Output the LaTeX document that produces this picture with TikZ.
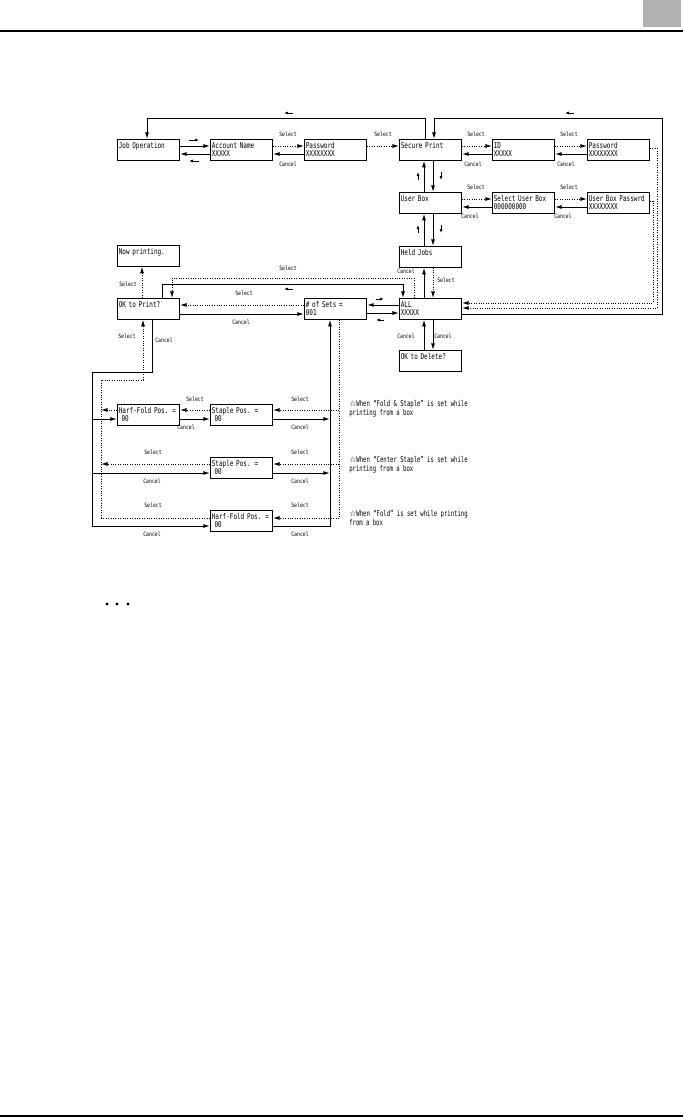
\documentclass[tikz,border=0pt]{standalone}
\usepackage{fontspec}
\usetikzlibrary{arrows.meta}
\newfontfamily\lcd[FakeStretch=0.75]{DejaVu Sans Mono}
\newfontfamily\lcds[FakeStretch=0.8]{DejaVu Sans Mono}
\newfontfamily\lcdn[FakeStretch=0.7]{DejaVu Sans Mono}
\newfontfamily\symf{DejaVu Sans}
\tikzset{
  ln/.style={line width=0.75pt},
  arr/.style={ln,-{Latex[length=5pt,width=3pt]}},
  dots/.style={line width=0.65pt,dash pattern=on 0.7pt off 1.1pt},
  darr/.style={dots,-{Latex[length=5pt,width=3pt]}},
  small/.style={line width=0.55pt,-{Latex[length=3pt,width=2.2pt]}},
  disp/.style={draw,line width=0.75pt,rectangle,anchor=north west,minimum height=15.5pt,
    inner xsep=1pt,inner ysep=1.5pt,text width=44.5pt,align=left,font=\lcd\fontsize{6}{6}\selectfont},
  lbl/.style={inner sep=0pt,font=\lcds\fontsize{4.5}{5}\selectfont},
  note/.style={anchor=west,inner sep=0pt,align=left,font=\lcdn\fontsize{6}{6.75}\selectfont}
}
\begin{document}
\begin{tikzpicture}[x=0.75pt,y=-0.75pt]
\useasboundingbox (0,0) rectangle (683,1118);
% page frame
\fill[gray!60] (643,0) rectangle (681,27);
\draw[line width=0.9pt] (0,31) -- (683,31);
\draw[line width=0.9pt] (0,1116) -- (683,1116);
\foreach \x in {107,117,128} \fill (\x,604) circle[radius=1.3pt];

% displays
\node[disp] (jobop) at (117,139) {Job Operation\\~};
\node[disp] (acct) at (210,139) {Account Name\\XXXXX};
\node[disp] (pwd) at (304,139) {Password\\XXXXXXXX};
\node[disp] (secure) at (399,139) {Secure Print\\~};
\node[disp] (id) at (492,139) {ID\\XXXXX};
\node[disp] (spwd) at (587,139) {Password\\XXXXXXXX};
\node[disp] (ubox) at (399,192) {User Box\\~};
\node[disp] (selub) at (492,192) {Select User Box\\000000000};
\node[disp] (ubpwd) at (587,192) {User Box Passwrd\\XXXXXXXX};
\node[disp] (held) at (399,246) {Held Jobs\\~};
\node[disp] (nowp) at (117,245) {Now printing.\\~};
\node[disp] (okp) at (117,298) {OK to Print?\\~};
\node[disp] (sets) at (304,298) {\# of Sets =\\001};
\node[disp] (all) at (399,298) {ALL\\XXXXX};
\node[disp] (del) at (399,350) {OK to Delete?\\~};
\node[disp] (hfa) at (117,404) {\mbox{Harf-Fold Pos. =}\\~00};
\node[disp] (sta) at (210,404) {Staple Pos. =\\~00};
\node[disp] (stb) at (210,457) {Staple Pos. =\\~00};
\node[disp] (hfc) at (210,510) {\mbox{Harf-Fold Pos. =}\\~00};

% bus lines
\coordinate (lc) at (92,372);
\coordinate (ls) at (101,380);
\coordinate (rc) at (330,526);
\coordinate (rs) at (339,518);

% top row
\draw[arr] (jobop.east |- 0,146) -- (acct.west |- 0,146);
\draw[arr] (acct.west |- 0,154) -- (jobop.east |- 0,154);
\draw[darr] (acct.east |- 0,146) -- (pwd.west |- 0,146);
\draw[arr] (pwd.west |- 0,154) -- (acct.east |- 0,154);
\draw[darr] (pwd.east |- 0,146) -- (secure.west |- 0,146);
\draw[darr] (secure.east |- 0,146) -- (id.west |- 0,146);
\draw[arr] (id.west |- 0,154) -- (secure.east |- 0,154);
\draw[darr] (id.east |- 0,146) -- (spwd.west |- 0,146);
\draw[arr] (spwd.west |- 0,154) -- (id.east |- 0,154);
% user box row
\draw[darr] (ubox.east |- 0,199) -- (selub.west |- 0,199);
\draw[arr] (selub.west |- 0,207) -- (ubox.east |- 0,207);
\draw[darr] (selub.east |- 0,199) -- (ubpwd.west |- 0,199);
\draw[arr] (ubpwd.west |- 0,207) -- (selub.east |- 0,207);
% middle column
\draw[arr] (secure.south -| 433,0) -- (ubox.north -| 433,0);
\draw[arr] (ubox.north -| 424,0) -- (secure.south -| 424,0);
\draw[arr] (ubox.south -| 433,0) -- (held.north -| 433,0);
\draw[arr] (held.north -| 424,0) -- (ubox.south -| 424,0);
\draw[darr] (held.south -| 433,0) -- (all.north -| 433,0);
\draw[arr] (all.north -| 424,0) -- (held.south -| 424,0);
\draw[arr] (all.south -| 433,0) -- (del.north -| 433,0);
\draw[arr] (del.north -| 424,0) -- (all.south -| 424,0);
% loops back to the top
\draw[arr] (secure.north -| 425,0) -- (425,118) -- (147,118) -- (jobop.north -| 147,0);
\draw[arr] (all.east |- 0,314) -- (662,314) -- (662,118) -- (434,118) -- (secure.north -| 434,0);
\draw[darr] (spwd.east |- 0,148) -- (657,148) -- (657,308) -- (all.east |- 0,308);
\draw[darr] (ubpwd.east |- 0,201) -- (653,201) -- (653,303) -- (all.east |- 0,303);
% ALL / sets / OK to Print
\draw[arr] (all.west |- 0,305) -- (sets.east |- 0,305);
\draw[arr] (sets.east |- 0,313) -- (all.west |- 0,313);
\draw[arr] (okp.north -| 162,0) -- (162,284) -- (403,284) -- (all.north -| 403,0);
\draw[darr] (all.north -| 414,0) -- (414,278) -- (172,278) -- (okp.north -| 172,0);
\draw[darr] (sets.west |- 0,305) -- (okp.east |- 0,305);
\draw[arr] (okp.east |- 0,314) -- (sets.west |- 0,314);
\draw[darr] (okp.north -| 142,0) -- (nowp.south -| 142,0);

% left side
\draw[ln] (okp.south -| 152,0) -- (152,372) -- (lc) -- (lc |- rc);
\draw[arr] (lc |- 0,419) -- (hfa.west |- 0,419);
\draw[arr] (lc |- 0,473) -- (stb.west |- 0,473);
\draw[arr] (lc |- rc) -- (hfc.west |- rc);
\draw[darr] (ls |- rs) -- (ls) -- (143,380) -- (okp.south -| 143,0);
\draw[darr] (hfa.west |- 0,410) -- (ls |- 0,410);
\draw[darr] (stb.west |- 0,464) -- (ls |- 0,464);
\draw[dots] (hfc.west |- rs) -- (ls |- rs);

% right side
\draw[dots] (sets.south -| rs) -- (rs);
\draw[darr] (rs |- 0,410) -- (sta.east |- 0,410);
\draw[darr] (sta.west |- 0,410) -- (hfa.east |- 0,410);
\draw[arr] (hfa.east |- 0,419) -- (sta.west |- 0,419);
\draw[arr] (sta.east |- 0,419) -- (rc |- 0,419);
\draw[darr] (rs |- 0,464) -- (stb.east |- 0,464);
\draw[arr] (stb.east |- 0,473) -- (rc |- 0,473);
\draw[darr] (rs) -- (hfc.east |- rs);
\draw[arr] (hfc.east |- rc) -- (rc) -- (sets.south -| rc);

% direction marks
\draw[small] (189,140) -- (199,140);
\draw[small] (199,161) -- (189,161);
\draw[small] (293,113) -- (284,113);
\draw[small] (574,113) -- (565,113);
\draw[small] (418,180) -- (418,172);
\draw[small] (441,172) -- (441,180);
\draw[small] (418,233) -- (418,225);
\draw[small] (441,225) -- (441,233);
\draw[small] (376,299) -- (384,299);
\draw[small] (384,320) -- (376,320);
\draw[small] (293,289) -- (284,289);

% key labels
\foreach \px/\py [count=\i] in {288/134,383/134,476/134,569/134,476/187,569/187,446/280,288/268,
  244/293,128/284,127/336,300/399,195/399,300/452,153/452,300/505,153/505}
  \node[lbl] (sel\i) at (\px,\py) {Select};
\foreach \px/\py [count=\i] in {288/164,473/164,566/164,470/216,563/216,406/271,406/336,443/336,
  241/322,164/340,186/427,300/427,152/481,300/481,152/534,300/534}
  \node[lbl] (can\i) at (\px,\py) {Cancel};

% notes
\node[note] (nfs) at (349,408.5) {{\symf ☆}When “Fold \& Staple” is set while\\printing from a box};
\node[note] (ncs) at (349,464.5) {{\symf ☆}When “Center Staple” is set while\\printing from a box};
\node[note] (nfo) at (349,517.5) {{\symf ☆}When “Fold” is set while printing\\from a box};
\end{tikzpicture}
\end{document}
